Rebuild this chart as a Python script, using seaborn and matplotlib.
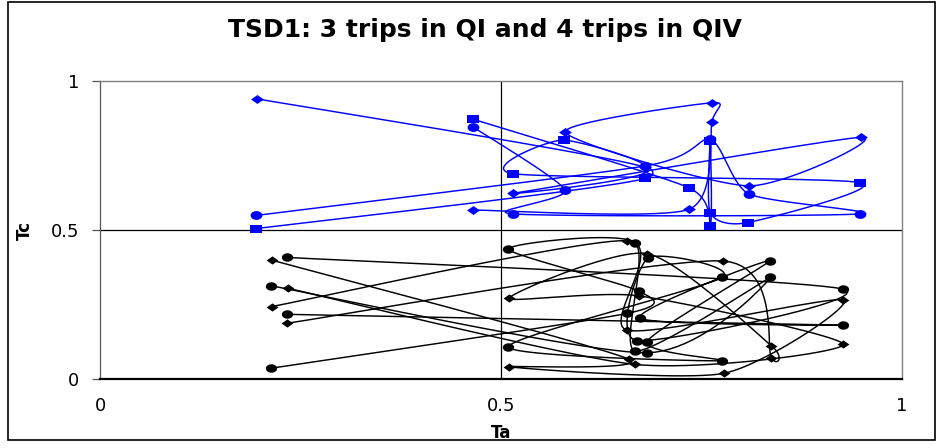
import numpy as np
import pandas as pd
import matplotlib
matplotlib.use("Agg")
import matplotlib.pyplot as plt
from matplotlib.patches import Rectangle
import seaborn as sns

# ---- trip trajectories (Ta, Tc) in time order ----
# QI trips (blue)
qi_diamond_ta = [0.196, 0.680, 0.515, 0.949, 0.809, 0.580, 0.763, 0.763, 0.734, 0.465]
qi_diamond_tc = [0.940, 0.710, 0.623, 0.811, 0.648, 0.828, 0.927, 0.864, 0.569, 0.567]

qi_square_ta = [0.465, 0.734, 0.761, 0.761, 0.761, 0.808, 0.948, 0.515, 0.578, 0.680, 0.195]
qi_square_tc = [0.872, 0.642, 0.514, 0.800, 0.558, 0.525, 0.659, 0.689, 0.802, 0.673, 0.505]

qi_circle_ta = [0.465, 0.580, 0.515, 0.948, 0.809, 0.761, 0.680, 0.195]
qi_circle_tc = [0.846, 0.634, 0.554, 0.554, 0.621, 0.804, 0.715, 0.549]

# QIV trips (black)
qiv_a_ta = [0.214, 0.659, 0.510, 0.778, 0.927, 0.657, 0.657, 0.214]
qiv_a_tc = [0.399, 0.067, 0.041, 0.019, 0.265, 0.164, 0.464, 0.243]

qiv_b_ta = [0.235, 0.667, 0.927, 0.672, 0.510, 0.682, 0.837, 0.837, 0.777, 0.233]
qiv_b_tc = [0.304, 0.049, 0.116, 0.279, 0.271, 0.421, 0.112, 0.072, 0.396, 0.187]

qiv_c_ta = [0.213, 0.682, 0.836, 0.667, 0.667, 0.509, 0.672, 0.657, 0.213]
qiv_c_tc = [0.313, 0.088, 0.341, 0.094, 0.458, 0.436, 0.295, 0.220, 0.036]

qiv_d_ta = [0.233, 0.926, 0.669, 0.683, 0.776, 0.509, 0.776, 0.682, 0.835, 0.673, 0.926, 0.233]
qiv_d_tc = [0.408, 0.302, 0.129, 0.406, 0.341, 0.108, 0.061, 0.125, 0.397, 0.204, 0.181, 0.217]

title = "TSD1: 3 trips in QI and 4 trips in QIV"
x_ticks = [0, 0.5, 1]
y_ticks = [0, 0.5, 1]
tick_labels = ["0", "0.5", "1"]


def smooth(xs, ys, n=24, tension=0.7):
    """Cardinal spline through the points, like a smoothed line series."""
    p = np.column_stack([xs, ys]).astype(float)
    ext = np.vstack([p[0], p, p[-1]])
    t = np.linspace(0, 1, n)[:, None]
    h00 = 2 * t ** 3 - 3 * t ** 2 + 1
    h10 = t ** 3 - 2 * t ** 2 + t
    h01 = -2 * t ** 3 + 3 * t ** 2
    h11 = t ** 3 - t ** 2
    out = []
    for i in range(1, len(ext) - 2):
        p0, p1, p2, p3 = ext[i - 1], ext[i], ext[i + 1], ext[i + 2]
        m1 = tension * (p2 - p0) / 2
        m2 = tension * (p3 - p1) / 2
        seg = h00 * p1 + h10 * m1 + h01 * p2 + h11 * m2
        out.append(seg if i == 1 else seg[1:])
    out = np.vstack(out)
    return out[:, 0], out[:, 1]


# wide marker shapes
diamond = [(-1, 0), (0, 0.7), (1, 0), (0, -0.7), (-1, 0)]
square = [(-1, -0.75), (1, -0.75), (1, 0.75), (-1, 0.75), (-1, -0.75)]
ang = np.linspace(0, 2 * np.pi, 40)
ellipse = list(zip(np.cos(ang), 0.75 * np.sin(ang)))

sns.set_style("white")
plt.rcParams["font.family"] = ["DejaVu Sans"]
plt.rcParams["text.color"] = "black"
plt.rcParams["axes.labelcolor"] = "black"
plt.rcParams["xtick.color"] = "black"
plt.rcParams["ytick.color"] = "black"

fig = plt.figure(figsize=(9.4, 4.48), dpi=100)
ax = fig.add_axes([100 / 940, 1 - 379 / 448, 802 / 940, 298 / 448])

series = [
    (qi_diamond_ta, qi_diamond_tc, "#0000ff", diamond, 85),
    (qi_square_ta, qi_square_tc, "#0000ff", square, 72),
    (qi_circle_ta, qi_circle_tc, "#0000ff", ellipse, 72),
    (qiv_a_ta, qiv_a_tc, "black", diamond, 72),
    (qiv_b_ta, qiv_b_tc, "black", diamond, 72),
    (qiv_c_ta, qiv_c_tc, "black", ellipse, 66),
    (qiv_d_ta, qiv_d_tc, "black", ellipse, 66),
]

# quadrant dividers
ax.axhline(0.5, color="black", lw=0.9, zorder=1)
ax.axvline(0.5, color="black", lw=0.9, zorder=1)

for xs, ys, col, mk, sz in series:
    sx, sy = smooth(xs, ys)
    curve = pd.DataFrame({"Ta": sx, "Tc": sy})
    sns.lineplot(data=curve, x="Ta", y="Tc", sort=False, estimator=None,
                 color=col, lw=1.05, ax=ax, legend=False, zorder=2)
    pts = pd.DataFrame({"Ta": xs, "Tc": ys})
    sns.scatterplot(data=pts, x="Ta", y="Tc", marker=mk, s=sz, color=col,
                    edgecolor=col, linewidth=0, ax=ax, legend=False, zorder=3)

ax.set_xlim(0, 1)
ax.set_ylim(0, 1)
ax.set_xticks(x_ticks)
ax.set_yticks(y_ticks)
ax.set_xticklabels(tick_labels)
ax.set_yticklabels(tick_labels)
ax.tick_params(axis="x", length=0, pad=13, labelsize=13)
ax.tick_params(axis="y", length=6, width=0.9, direction="out", pad=9,
               labelsize=13, color="#555555", left=True)

for side in ("top", "right"):
    ax.spines[side].set_color("#808080")
    ax.spines[side].set_linewidth(1.0)
ax.spines["left"].set_color("#555555")
ax.spines["left"].set_linewidth(0.9)
ax.spines["bottom"].set_color("black")
ax.spines["bottom"].set_linewidth(1.6)

ax.set_xlabel("Ta", fontsize=12, fontweight="bold")
ax.set_ylabel("Tc", fontsize=12, fontweight="bold")
ax.xaxis.set_label_coords(0.5, -0.15)
ax.yaxis.set_label_coords(-0.082, 0.5)

fig.text(485 / 940, 1 - 30 / 448, title, ha="center", va="center",
         fontsize=18, fontweight="bold")

fig.patches.append(Rectangle((8 / 940, 8 / 448), 927 / 940, 438 / 448,
                             transform=fig.transFigure, fill=False,
                             edgecolor="black", lw=1.2))

fig.savefig("out.png", dpi=100)
